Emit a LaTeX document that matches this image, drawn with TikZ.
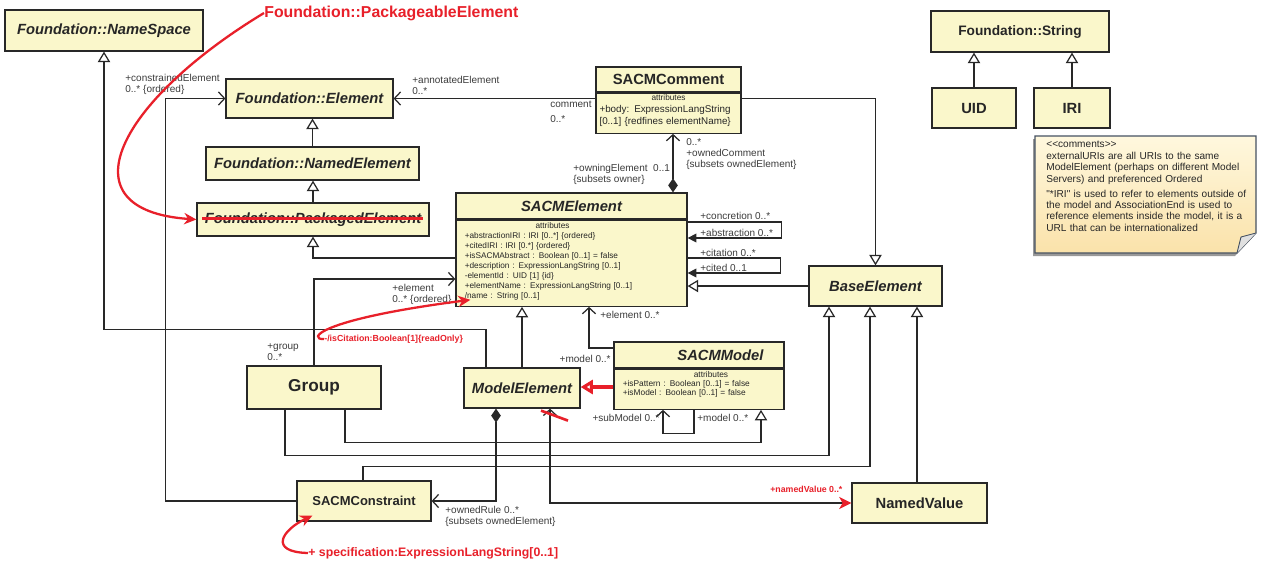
\documentclass[tikz,border=0pt]{standalone}
\usepackage{fontspec}
\setmainfont{Liberation Sans}
\newfontfamily\notefont{Liberation Sans}
\usetikzlibrary{arrows.meta,positioning,calc}

\definecolor{boxfill}{RGB}{250,247,203}
\definecolor{boxline}{RGB}{40,40,40}
\definecolor{labelgray}{RGB}{60,60,60}
\definecolor{annored}{RGB}{232,32,42}
\definecolor{notetop}{RGB}{255,248,222}
\definecolor{notebot}{RGB}{250,226,170}
\definecolor{noteline}{RGB}{70,82,98}

\tikzset{
  classbox/.style={draw=boxline, fill=boxfill, line width=0.7pt, inner sep=1pt, text=black!85,
    font=\fontsize{8.4}{10}\selectfont\bfseries},
  abstractbox/.style={classbox, font=\fontsize{8.4}{10}\selectfont\bfseries\itshape},
  attrbox/.style={draw=boxline, fill=boxfill, line width=0.7pt, align=left, inner ysep=1pt,
    text=black!85, font=\fontsize{4.7}{5.7}\selectfont},
  role/.style={inner sep=0pt, align=left, text=labelgray, font=\fontsize{5.7}{6.3}\selectfont},
  redlabel/.style={inner sep=0pt, text=annored},
  notetext/.style={inner sep=0pt, align=left, text width=4.2cm, text=black!85,
    font=\notefont\fontsize{5.75}{6.5}\selectfont},
  conn/.style={draw=boxline, line width=0.7pt},
  gen/.style={conn, -{Triangle[open, length=6pt, width=7pt, fill=white]}},
  nav/.style={conn, -{Straight Barb[length=3.5pt, width=7.5pt]}},
  fnav/.style={conn, -{Triangle[length=5pt, width=5pt]}},
  comp/.style={conn, {Diamond[length=8pt, width=5.5pt]}-{Straight Barb[length=3.5pt, width=7.5pt]}},
  annoarrow/.style={draw=annored, line width=1.3pt, -{Stealth[length=7pt, width=6.5pt]}},
}

\begin{document}
\begin{tikzpicture}[x=0.02cm, y=-0.02cm]
    \fill[white] (0,0) rectangle (1265,565);
    \useasboundingbox (0,0) rectangle (1265,565);

    % Foundation classes
    \node[abstractbox, minimum width=3.96cm, minimum height=0.82cm] (nsp) at (104,30.5) {Foundation::NameSpace};
    \node[abstractbox, minimum width=3.34cm, minimum height=0.78cm] (elem) at (309.5,98.5) {Foundation::Element};
    \node[abstractbox, minimum width=4.26cm, minimum height=0.66cm] (named) at (312.5,163.5) {Foundation::NamedElement};
    \node[abstractbox, minimum width=4.64cm, minimum height=0.66cm] (pkged) at (313,219.5) {Foundation::PackagedElement};

    % SACM classes
    \node[classbox, minimum width=2.9cm, minimum height=0.5cm] (cmth) at (668.5,79.5) {SACMComment};
    \node[attrbox, below=0pt of cmth, inner xsep=2pt, text width=2.76cm, minimum height=0.76cm,
          font=\fontsize{5.6}{6.6}\selectfont] (cmta)
        {{\centering\fontsize{4.7}{5.2}\selectfont attributes\par}
         +body: ExpressionLangString\\
         {[}0..1] \{redfines elementName\}\par\vspace{3pt}};

    \node[abstractbox, minimum width=4.62cm, minimum height=0.52cm] (seh) at (571.5,206) {SACMElement};
    \node[attrbox, below=0pt of seh, inner xsep=5pt, text width=4.27cm, minimum height=1.72cm] (sea)
        {{\centering\hspace*{-0.76cm}attributes\par}
         +abstractionIRI : IRI [0..*] \{ordered\}\\
         +citedIRI : IRI [0.*] \{ordered\}\\
         +isSACMAbstract : Boolean [0..1] = false\\
         +description : ExpressionLangString [0..1]\\
         -elementId : UID [1] \{id\}\\
         +elementName : ExpressionLangString [0..1]\\
         /name : String [0..1]\par\vspace{2pt}};

    \node[abstractbox, minimum width=2.66cm, minimum height=0.8cm] (base) at (875.5,286) {BaseElement};
    \node[classbox, minimum width=2.68cm, minimum height=0.86cm, font=\fontsize{9.8}{11}\selectfont\bfseries] (grp) at (314,387.5) {Group};
    \node[abstractbox, minimum width=2.32cm, minimum height=0.8cm] (mel) at (522,388) {ModelElement};

    \node[abstractbox, minimum width=3.4cm, minimum height=0.52cm] (smh) at (699,355) {\hspace*{0.86cm}SACMModel};
    \node[attrbox, below=0pt of smh, inner xsep=5pt, text width=3.05cm, minimum height=0.8cm,
          font=\fontsize{4.75}{5.1}\selectfont] (sma)
        {{\centering\hspace*{0.48cm}attributes\par}
         +isPattern : Boolean [0..1] = false\\
         +isModel : Boolean [0..1] = false\par\vspace{6pt}};

    \node[classbox, minimum width=2.68cm, minimum height=0.8cm, font=\fontsize{7.4}{9}\selectfont\bfseries] (cons) at (364,501) {SACMConstraint};
    \node[classbox, minimum width=2.7cm, minimum height=0.8cm] (nval) at (919.5,503) {NamedValue};

    % String types
    \node[classbox, minimum width=3.56cm, minimum height=0.82cm, font=\fontsize{7.8}{9}\selectfont\bfseries] (str) at (1020,31.5) {Foundation::String};
    \node[classbox, minimum width=1.68cm, minimum height=0.8cm] (uid) at (974,108) {UID};
    \node[classbox, minimum width=1.52cm, minimum height=0.8cm] (iri) at (1072,108) {IRI};

    % Comment note
    \fill[black!40] (1033,139) -- (1254,139) -- (1254,236) -- (1235,256) -- (1033,256) -- cycle;
    \draw[noteline, line width=0.6pt, top color=notetop, bottom color=notebot]
        (1035,136) -- (1256,136) -- (1256,233) -- (1237,253) -- (1035,253) -- cycle;
    \draw[noteline, line width=0.5pt, fill=black!12] (1256,233) -- (1241,237) -- (1237,253);
    \node[notetext, anchor=north west] (cmt) at (1046,141)
        {<<comments>>\\
         externalURIs are all URIs to the same\\
         ModelElement (perhaps on different Model\\
         Servers) and preferenced Ordered\\[2pt]
         "*IRI" is used to refer to elements outside of\\
         the model and AssociationEnd is used to\\
         reference elements inside the model, it is a\\
         URL that can be internationalized};

    % Generalizations
    \draw[gen] (named.north) -- (named.north |- elem.south);
    \draw[gen] (pkged.north) -- (pkged.north |- named.south);
    \draw[gen] (sea.west |- 0,258) -| (pkged.south);
    \draw[gen] (mel.north) -- (mel.north |- sea.south);
    \draw[gen] (mel.north -| 486,0) -- ++(0,-38) -| (nsp.south);
    \draw[gen] (cmta.east |- elem.east) -| (base.north);
    \draw[gen] (base.west) -- (sea.east |- base.west);
    \draw[gen] (grp.south -| 285,0) -- ++(0,46) -| (base.south -| 829,0);
    \draw[gen] (grp.south -| 345,0) -- ++(0,33) -| (sma.south -| 761,0);
    \draw[gen] (cons.north -| 363,0) -- ++(0,-14) -| (base.south -| 870,0);
    \draw[gen] (nval.north -| 917,0) -- (base.south -| 917,0);
    \draw[gen] (uid.north) -- (uid.north |- str.south);
    \draw[gen] (iri.north) -- (iri.north |- str.south);

    % Associations
    \draw[nav] (cmta.west |- elem.east) -- (elem.east);
    \draw[comp] (seh.north -| 673,0) -- (cmta.south -| 673,0);
    \draw[fnav] (sea.east |- 0,222) -- ++(94,0) |- (sea.east |- 0,238);
    \draw[fnav] (sea.east |- 0,258) -- ++(93,0) |- (sea.east |- 0,273);
    \draw[nav] (grp.north) |- (sea.west |- 0,279);
    \draw[nav] (smh.west |- 0,348) -| (sea.south -| 589,0);
    \draw[nav] (sma.south -| 694,0) -- ++(0,24) -| (sma.south -| 663,0);
    \draw[nav] (cons.west) -- ++(-131,0) |- (elem.west);
    \draw[comp] (mel.south -| 496,0) |- (cons.east);
    \draw[conn, {Straight Barb[length=3.5pt, width=7.5pt]}-{Stealth[color=annored, length=7pt, width=7pt, inset=2pt]}]
        (mel.south -| 550,0) |- (nval.west);

    % Role labels
    \node[role, anchor=west] (lce) at (125,84) {+constrainedElement\\0..* \{ordered\}};
    \node[role, anchor=west] (lae) at (412,85) {+annotatedElement\\0..*};
    \node[role, anchor=west] (lcm) at (550,112) {comment\\[2.5pt]0..*};
    \node[role, anchor=west] (loc) at (686,154) {0..*\\+ownedComment\\\{subsets ownedElement\}};
    \node[role, anchor=west] (low) at (573,174) {+owningElement~~0..1\\\{subsets owner\}};
    \node[role, anchor=west] (lcn) at (700,216) {+concretion 0..*};
    \node[role, anchor=west] (lab) at (700,233) {+abstraction 0..*};
    \node[role, anchor=west] (lct) at (700,253) {+citation 0..*};
    \node[role, anchor=west] (lcd) at (700,268) {+cited 0..1};
    \node[role, anchor=west] (lel) at (392,294.5) {+element\\0..* \{ordered\}};
    \node[role, anchor=west] (lgr) at (267,352.5) {+group\\0..*};
    \node[role, anchor=west] (lem) at (600,315) {+element 0..*};
    \node[role, anchor=east] (lmo) at (611,359) {+model 0..*};
    \node[role, anchor=east] (lsm) at (660,418) {+subModel 0..*};
    \node[role, anchor=west] (lmr) at (697,418) {+model 0..*};
    \node[role, anchor=west] (lor) at (445,516) {+ownedRule 0..*\\\{subsets ownedElement\}};

    % Red annotations
    \node[redlabel, anchor=west, font=\fontsize{9}{10}\selectfont\bfseries] (pkbl) at (264,13) {Foundation::PackageableElement};
    \node[redlabel, anchor=west, font=\fontsize{5}{6}\selectfont\bfseries] (iscit) at (324,339) {-/isCitation:Boolean[1]\{readOnly\}};
    \node[redlabel, anchor=west, font=\fontsize{7}{8}\selectfont\bfseries] (spec) at (308,553) {+ specification:ExpressionLangString[0..1]};
    \node[redlabel, anchor=west, font=\fontsize{5}{6}\selectfont\bfseries] (lnv) at (770,489) {+namedValue 0..*};

    \draw[annoarrow] (pkbl.west) .. controls (120,100) and (60,210) .. (pkged.west);
    \draw[annored, line width=1.2pt] ($(pkged.west)+(6,-1)$) -- ($(pkged.east)+(-7,-1)$);
    \draw[annoarrow] (iscit.west) .. controls (308,340) and (314,320) .. ($(sea.south west)+(15,-7)$);
    \draw[annoarrow] (spec.west) .. controls (268,552) and (282,530) .. ($(cons.south west)+(16,-6)$);
    \draw[annored, line width=1.8pt, -{Triangle[open, length=7pt, width=8pt, fill=white]}]
        (sma.west |- 0,387) -- (mel.east |- 0,387);
    \draw[annored, line width=1.5pt] ($(mel.south)+(19,2)$) -- ($(mel.south)+(46,12)$);
\end{tikzpicture}
\end{document}
